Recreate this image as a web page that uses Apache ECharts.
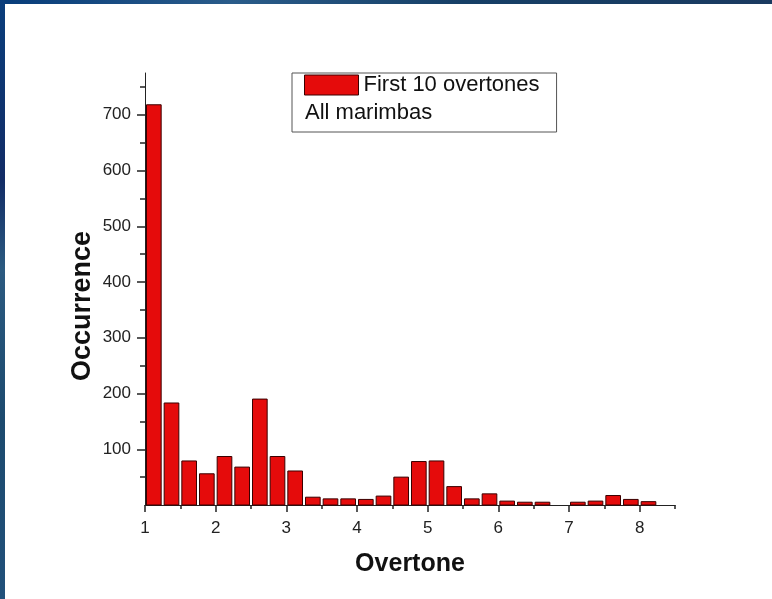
<!DOCTYPE html>
<html>
<head>
<meta charset="utf-8">
<script src="https://cdn.jsdelivr.net/npm/echarts@6/dist/echarts.min.js"></script>
<style>
html,body{margin:0;padding:0;background:#fff;}
#chart{width:772px;height:599px;}
</style>
</head>
<body>
<div id="chart"></div>
<script>
// Bin starts (overtone ratio), bin width 0.25
const binStarts = [1.00,1.25,1.50,1.75,2.00,2.25,2.50,2.75,3.00,3.25,3.50,3.75,4.00,4.25,4.50,4.75,5.00,5.25,5.50,5.75,6.00,6.25,6.50,6.75,7.00,7.25,7.50,7.75,8.00];
const occurrences = [718,183,79,56,87,68,190,87,61,14,11,11,10,16,50,78,79,33,11,20,7,5,5,0,5,7,17,10,6];
const binWidth = 0.25;
const xLabelValues = [1,2,3,4,5,6,7,8];
const xHalfTicks = [1.5,2.5,3.5,4.5,5.5,6.5,7.5,8.5];
const yLabelValues = [100,200,300,400,500,600,700];
const yHalfTicks = [50,150,250,350,450,550,650,750];
const seriesName = 'First 10 overtones';
const subtitle = 'All marimbas';

const chart = echarts.init(document.getElementById('chart'));
const font = 'Liberation Sans, Arial, sans-serif';
const barColor = '#e50b0b';
const data = binStarts.map((s, i) => [s, occurrences[i]]);

chart.setOption({
  backgroundColor: '#ffffff',
  animation: false,
  graphic: [
    {type:'rect', left:0, top:0, shape:{width:772, height:4}, z:100,
     style:{fill:new echarts.graphic.LinearGradient(0,0,1,0,[{offset:0,color:'#073c7a'},{offset:0.3,color:'#2a5c8a'},{offset:0.6,color:'#163f66'},{offset:1,color:'#1a3a60'}])}},
    {type:'rect', left:0, top:0, shape:{width:5, height:599}, z:100,
     style:{fill:new echarts.graphic.LinearGradient(0,0,0,1,[{offset:0,color:'#0a3e7c'},{offset:0.3,color:'#122c66'},{offset:0.45,color:'#2b5a80'},{offset:0.7,color:'#1c4a6e'},{offset:1,color:'#21507a'}])}}
  ],
  title: {
    text: subtitle, left: 300, top: 97,
    textStyle: {fontFamily: font, fontSize: 22, fontWeight: 'normal', color: '#111'}
  },
  legend: {
    left: 292, top: 73, orient: 'vertical',
    padding: [1, 17, 36, 12],
    borderColor: '#555', borderWidth: 1,
    itemWidth: 54, itemHeight: 20, itemGap: 5,
    selectedMode: false,
    textStyle: {fontFamily: font, fontSize: 22, color: '#111'},
    data: [{name: seriesName, icon: 'rect', itemStyle: {color: barColor, borderColor: '#3a0000', borderWidth: 1}}]
  },
  grid: {left: 145, right: 97, top: 73, bottom: 94},
  xAxis: [{
    type: 'value', min: 1, max: 8.5, interval: 0.5,
    name: 'Overtone', nameLocation: 'middle', nameGap: 47, nameMoveOverlap: false,
    nameTextStyle: {fontFamily: font, fontSize: 25, fontWeight: 'bold', color: '#111'},
    axisLine: {show: true, lineStyle: {color: '#222', width: 1}},
    axisTick: {show: true, length: 7, customValues: xLabelValues, lineStyle: {color: '#222', width: 1.5}},
    axisLabel: {customValues: xLabelValues, fontFamily: font, fontSize: 17, color: '#222', margin: 15},
    splitLine: {show: false}
  }, {
    type: 'value', min: 1, max: 8.5, interval: 0.5, position: 'bottom',
    axisLine: {show: false},
    axisTick: {show: true, length: 4, customValues: xHalfTicks, lineStyle: {color: '#222', width: 1.5}},
    axisLabel: {show: false},
    splitLine: {show: false}
  }],
  yAxis: [{
    type: 'value', min: 0, max: 775, interval: 50,
    name: 'Occurrence', nameLocation: 'middle', nameGap: 49, nameRotate: 90, nameMoveOverlap: false,
    nameTextStyle: {fontFamily: font, fontSize: 27, fontWeight: 'bold', color: '#111', padding: [0, 34, 0, 0]},
    axisLine: {show: true, lineStyle: {color: '#222', width: 1}},
    axisTick: {show: true, length: 8, customValues: yLabelValues, lineStyle: {color: '#222', width: 1.5}},
    axisLabel: {customValues: yLabelValues, fontFamily: font, fontSize: 17, color: '#222', margin: 14},
    splitLine: {show: false}
  }, {
    type: 'value', min: 0, max: 775, interval: 50, position: 'left',
    axisLine: {show: false},
    axisTick: {show: true, length: 5, customValues: yHalfTicks, lineStyle: {color: '#222', width: 1.5}},
    axisLabel: {show: false},
    splitLine: {show: false}
  }],
  series: [{
    name: seriesName,
    type: 'custom',
    xAxisIndex: 0, yAxisIndex: 0,
    itemStyle: {color: barColor},
    data: data,
    renderItem: function (params, api) {
      const start = api.value(0);
      const val = api.value(1);
      if (!val) return null;
      const pTop = api.coord([start, val]);
      const pBot = api.coord([start + binWidth, 0]);
      const x = pTop[0] + 1.5;
      const w = pBot[0] - pTop[0] - 3;
      return {
        type: 'rect',
        shape: {x: x, y: pTop[1], width: w, height: pBot[1] - pTop[1]},
        style: {fill: barColor, stroke: '#3a0000', lineWidth: 1}
      };
    }
  }]
});
</script>
</body>
</html>
